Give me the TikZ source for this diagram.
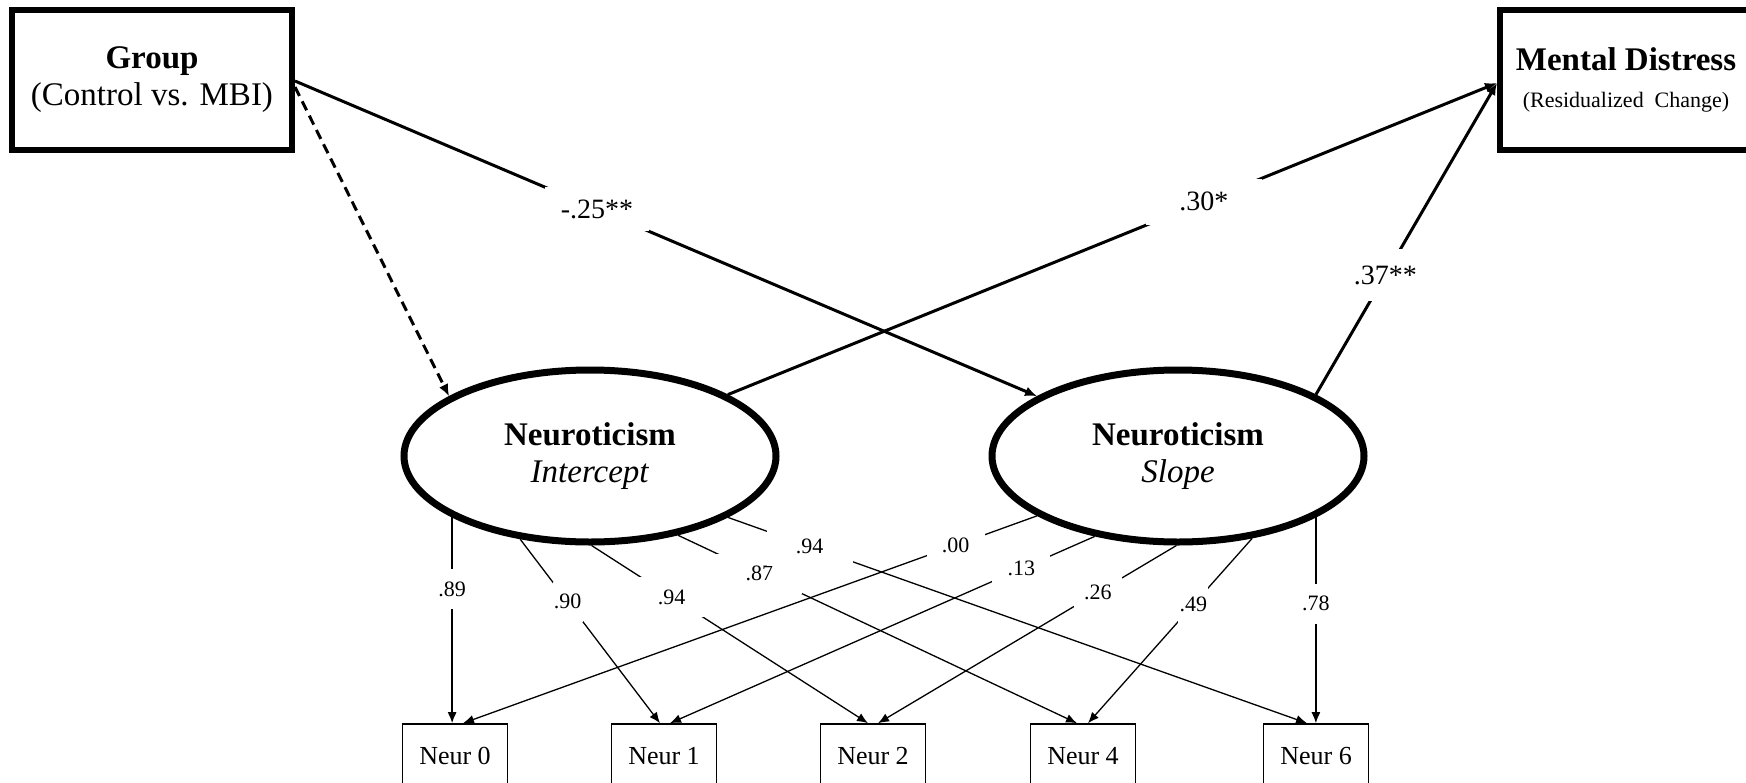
\documentclass[tikz,border=0pt]{standalone}
\usepackage{fontspec}
\setmainfont{Liberation Serif}
\usetikzlibrary{shapes.geometric,arrows.meta,calc}
\begin{document}
\begin{tikzpicture}[x=0.5pt,y=-0.5pt,
  every node/.style={font=\fontsize{16.5}{18.5}\selectfont},
  bigbox/.style={draw, line width=3pt, rectangle, align=center, inner sep=0pt, minimum height=70pt},
  latent/.style={draw, ellipse, line width=3.5pt, minimum width=186pt, minimum height=86pt, inner sep=0pt, align=center},
  ind/.style={draw, rectangle, line width=0.8pt, minimum width=52.5pt, minimum height=32pt, inner sep=0pt, font=\fontsize{13}{15}\selectfont},
  mainarrow/.style={line width=1.5pt, -{Latex[length=6pt,width=5pt]}},
  loadarrow/.style={line width=0.65pt, -{Latex[length=5.5pt,width=4.5pt]}},
  coef/.style={fill=white, inner sep=0pt, font=\fontsize{14}{16}\selectfont},
  load/.style={fill=white, inner sep=0pt, minimum height=20pt, minimum width=15pt, font=\fontsize{11}{13}\selectfont},
]
\useasboundingbox (0,0) rectangle (1746,782);

% boxes
\node[bigbox, minimum width=140pt] (group) at (152,80) {\textbf{Group}\\(Control vs. MBI)};
\node[bigbox, minimum width=126pt] (md) at (1626,80) {\textbf{Mental Distress}\\{\fontsize{11}{13}\selectfont (Residualized\ \ Change)}};

% latent factors
\node[latent] (int) at (590,456) {\textbf{Neuroticism}\\\textit{Intercept}};
\node[latent] (slope) at (1178,456) {\textbf{Neuroticism}\\\textit{Slope}};

% indicators
\node[ind] (n0) at (455,756) {Neur 0};
\node[ind] (n1) at (664,756) {Neur 1};
\node[ind] (n2) at (873,756) {Neur 2};
\node[ind] (n4) at (1083,756) {Neur 4};
\node[ind] (n6) at (1316,756) {Neur 6};

% structural paths
\draw[mainarrow] ($(group.east)+(0,1)$) -- node[coef, pos=0.407, minimum width=52pt, minimum height=22pt] {-.25**} (slope.157);
\draw[mainarrow, dash pattern=on 5pt off 3pt] ($(group.east)+(0,7)$) -- (int.157);
\draw[mainarrow] (int.24) -- node[coef, pos=0.619, minimum width=58pt, minimum height=23pt] {.30*} ($(md.west)+(0,3)$);
\draw[mainarrow] (slope.24) -- node[coef, pos=0.384, minimum width=32pt, minimum height=26pt] {.37**} ($(md.west)+(0,3)$);

% intercept loadings
\draw[loadarrow] (int.204) -- node[load, pos=0.35] {.89} (int.204 |- n0.north);
\draw[loadarrow] (int.230) -- node[load, pos=0.34] {.90} ($(n1.north)+(-4,0)$);
\draw[loadarrow] (int.271) -- node[load, pos=0.29, minimum width=43pt] {.94} ($(n2.north)+(-5,0)$);
\draw[loadarrow] (int.318) -- node[load, pos=0.204, minimum width=43pt] {.87} ($(n4.north)+(-6,0)$);
\draw[loadarrow] (int.336) -- node[load, pos=0.141, minimum width=43pt] {.94} ($(n6.north)+(-9,0)$);

% slope loadings
\draw[loadarrow] (slope.203) -- node[load, pos=0.142, minimum width=29pt] {.00} ($(n0.north)+(8,0)$);
\draw[loadarrow] (slope.224) -- node[load, pos=0.173, minimum width=29pt] {.13} ($(n1.north)+(6,0)$);
\draw[loadarrow] (slope.269) -- node[load, pos=0.263, minimum width=24pt] {.26} ($(n2.north)+(5,0)$);
\draw[loadarrow] (slope.312) -- node[load, pos=0.358] {.49} ($(n4.north)+(5,0)$);
\draw[loadarrow] (slope.336) -- node[load, pos=0.42] {.78} (slope.336 |- n6.north);
\end{tikzpicture}
\end{document}
